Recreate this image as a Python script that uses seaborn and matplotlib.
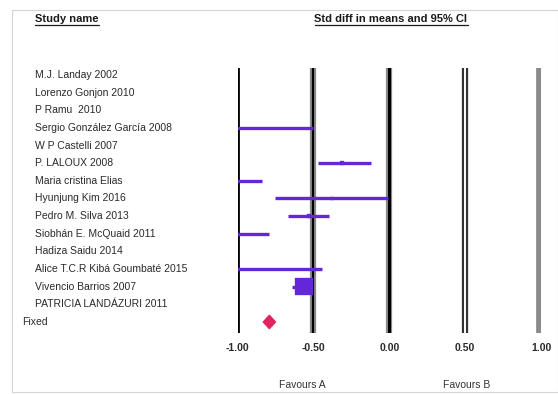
import matplotlib
matplotlib.use("Agg")
import matplotlib.pyplot as plt
import matplotlib.transforms as mtransforms
from matplotlib.lines import Line2D
from matplotlib.patches import Rectangle
import numpy as np
import pandas as pd
import seaborn as sns

# Studies, effect sizes (std diff in means) and 95% confidence limits
studies = [
    "M.J. Landay 2002",
    "Lorenzo Gonjon 2010",
    "P Ramu  2010",
    "Sergio González García 2008",
    "W P Castelli 2007",
    "P. LALOUX 2008",
    "Maria cristina Elias",
    "Hyunjung Kim 2016",
    "Pedro M. Silva 2013",
    "Siobhán E. McQuaid 2011",
    "Hadiza Saidu 2014",
    "Alice T.C.R Kibá Goumbaté 2015",
    "Vivencio Barrios 2007",
    "PATRICIA LANDÁZURI 2011",
]
estimate = [-1.90, -1.70, -1.80, -1.25, -1.60, -0.31, -1.20, -0.38, -0.53, -1.15, -1.70, -1.25, -0.56, -1.50]
lower = [-2.40, -2.20, -2.30, -2.00, -2.00, -0.47, -1.57, -0.75, -0.67, -1.52, -2.10, -2.06, -0.64, -1.90]
upper = [-1.40, -1.20, -1.30, -0.50, -1.20, -0.12, -0.84, -0.01, -0.40, -0.79, -1.30, -0.44, -0.52, -1.10]
weight = [1, 1, 1, 1, 1, 1, 1, 1, 1, 1, 1, 1, 12, 1]

pooled_label = "Fixed"
pooled_est, pooled_lo, pooled_hi = -0.79, -0.83, -0.75

tick_values = [-1.0, -0.5, 0.0, 0.5, 1.0]
tick_labels = ["-1.00", "-0.50", "0.00", "0.50", "1.00"]
side_labels = ["Favours A", "Favours B"]

df = pd.DataFrame({
    "study": studies,
    "row": np.arange(len(studies)),
    "est": estimate,
    "lo": lower,
    "hi": upper,
    "w": weight,
})

sns.set_style("white")
plt.rcParams["font.family"] = ["Liberation Sans", "DejaVu Sans"]

W, H = 558, 394
fig = plt.figure(figsize=(W / 100, H / 100), dpi=100)

x0, x1 = 237.5, 541.0
y_top, y_bot = 68.0, 333.0
row0_px, row_step = 75.0, 17.64
ax = fig.add_axes([x0 / W, 1 - y_bot / H, (x1 - x0) / W, (y_bot - y_top) / H])
ax.set_xlim(-1, 1)
ax.set_ylim((y_bot - row0_px) / row_step, (y_top - row0_px) / row_step)

ci_color = "#6326d8"
pooled_color = "#e0245e"
text_color = "#2a2a2a"

# reference lines at the tick positions
ax.axvline(-1.0, color="black", lw=2.0, zorder=2)
ax.axvline(-0.5, color="#8c8c8c", lw=4.5, zorder=1)
ax.axvline(-0.5, color="black", lw=1.6, zorder=2)
ax.axvline(0.0, color="#8c8c8c", lw=4.5, zorder=1)
ax.axvline(0.0, color="black", lw=2.2, zorder=2)
ax.axvline(0.5, color="#333333", lw=4.5, zorder=1)
ax.axvline(0.5, color="white", lw=1.4, zorder=2)
ax.axvline(1.0, color="#8a8a8a", lw=7.0, zorder=1)

# confidence intervals and study markers
ax.hlines(df["row"], df["lo"], df["hi"], color=ci_color, lw=2.4, zorder=3)
sns.scatterplot(data=df, x="est", y="row", size="w", sizes=(8, 160),
                marker="s", color=ci_color, edgecolor=ci_color,
                legend=False, ax=ax, zorder=4, clip_on=True)

# pooled estimate
prow = len(studies)
ax.fill([pooled_lo, pooled_est, pooled_hi, pooled_est],
        [prow, prow - 0.38, prow, prow + 0.38],
        color=pooled_color, zorder=4)

ax.set_xticks(tick_values)
ax.set_xticklabels(tick_labels, fontsize=7.5, fontweight="bold", color=text_color)
ax.tick_params(axis="x", length=0, pad=7)
ax.set_yticks([])
ax.set_xlabel("")
ax.set_ylabel("")
for s in ax.spines.values():
    s.set_visible(False)

# study names in the left column
trans = mtransforms.blended_transform_factory(fig.transFigure, ax.transData)
for r, name in zip(df["row"], df["study"]):
    ax.text(35 / W, r, name, transform=trans, fontsize=7.5, color=text_color,
            va="center", ha="left", clip_on=False)
ax.text(22 / W, prow, pooled_label, transform=trans, fontsize=7.5,
        color=text_color, va="center", ha="left", clip_on=False)

# column headers, underlined
def header(x, y, text, ha):
    t = fig.text(x, y, text, fontsize=8, fontweight="bold", ha=ha,
                 va="baseline", color="#1a1a1a")
    fig.canvas.draw()
    bb = t.get_window_extent().transformed(fig.transFigure.inverted())
    fig.add_artist(Line2D([bb.x0, bb.x1], [y - 0.008, y - 0.008],
                          color="#1a1a1a", lw=0.9, transform=fig.transFigure))

header(35 / W, 1 - 22 / H, "Study name", "left")
header(391 / W, 1 - 22 / H, "Std diff in means and 95% CI", "center")

# direction labels under the axis
dtrans = mtransforms.blended_transform_factory(ax.transData, fig.transFigure)
ax.text(-0.57, 1 - 385 / H, side_labels[0], transform=dtrans, fontsize=7.5,
        color="#333333", ha="center", va="center", clip_on=False)
ax.text(0.51, 1 - 385 / H, side_labels[1], transform=dtrans, fontsize=7.5,
        color="#333333", ha="center", va="center", clip_on=False)

# panel frame
fig.add_artist(Rectangle((12 / W, 2 / H), 1 - 12 / W, 1 - 12 / H,
                         transform=fig.transFigure, fill=False,
                         edgecolor="#d4d4d4", lw=0.8))

fig.savefig("out.png", dpi=100)
